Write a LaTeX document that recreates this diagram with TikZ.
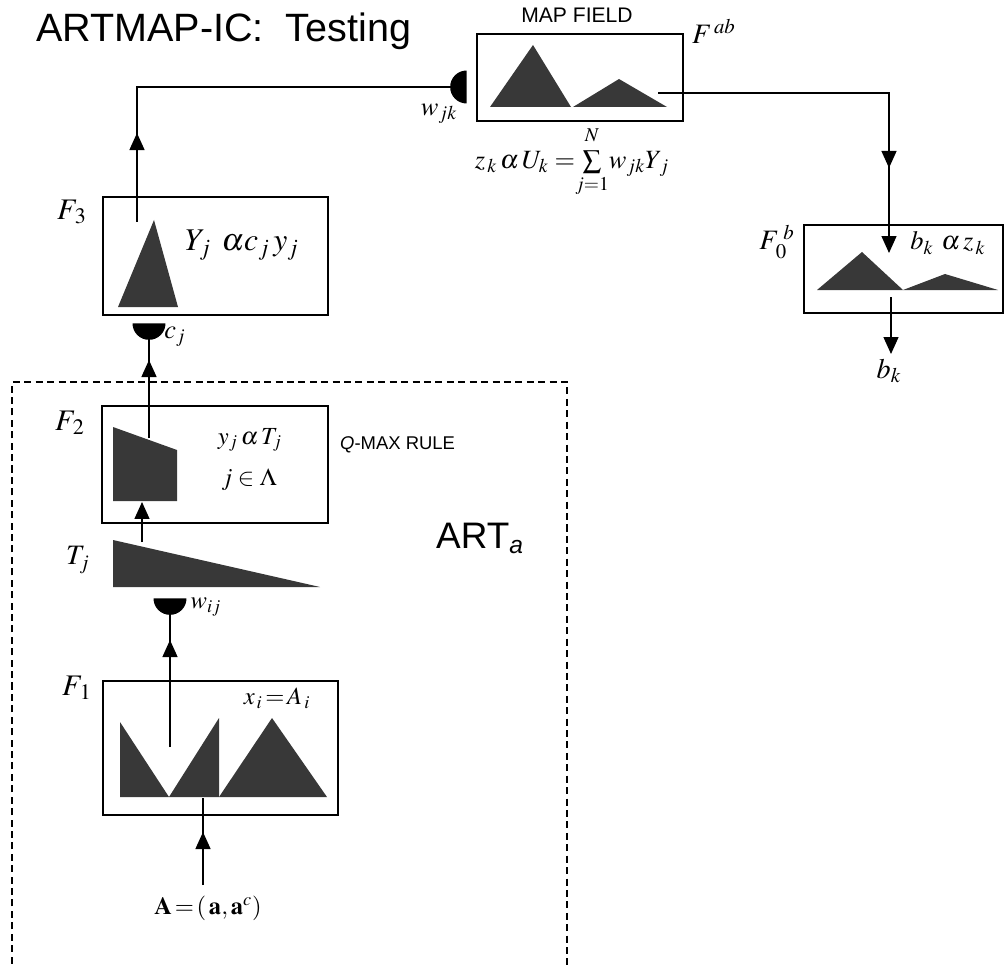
\documentclass[tikz,border=0pt]{standalone}
\usepackage{mathptmx}
\usepackage[no-math]{fontspec}
\newfontfamily\helv{Liberation Sans}
\usetikzlibrary{arrows.meta,shapes.geometric,decorations.markings,positioning}
\newcommand{\fsz}[1]{\fontsize{#1}{#1}\selectfont}

\begin{document}
\begin{tikzpicture}[x=0.02cm, y=-0.02cm,
    layer/.style={rectangle, draw, line width=1.1pt, inner sep=0pt},
    stipple/.style={fill=black!78},
    wire/.style={line width=0.8pt},
    tip/.style={-{Triangle[length=0.34cm,width=0.3cm]}},
    midtip/.style={postaction={decorate}, decoration={markings, mark=at position #1 with {\arrow{Triangle[length=0.34cm,width=0.3cm]}}}},
    gate/.style={semicircle, fill=black, inner sep=0pt, minimum width=0.66cm, minimum height=0.33cm, anchor=chord center},
    lbl/.style={font=\fsz{#1}},
    sans/.style={font=\helv\fsz{#1}}]

    \useasboundingbox (0,0) rectangle (1004,966);

    % title
    \node[anchor=base west, sans=22.5] (title) at (30,42) {ARTMAP-IC:\ \ Testing};

    % map field
    \node[sans=12] (mftitle) at (577,15) {MAP FIELD};
    \node[layer, minimum width=4.12cm, minimum height=1.74cm] (mapf) at (580,77.5) {};
    \fill[stipple] (490,107) -- (533,45) -- (571,107) -- cycle;
    \fill[stipple] (573,107) -- (619,79) -- (667,107) -- cycle;
    \node[lbl=16, anchor=base west] (fab) at (686,44) {$F^{\,ab}$};
    \node[gate, shape border rotate=90] (wjk) at (467,87) {};
    \node[lbl=15] (wjklbl) at (439,114) {$w_{jk}$};
    \node[lbl=15] (zeq) at (572,162) {$z_{\,k}\,\alpha\,U_k\;{=}\!\sum\limits_{j=1}^{\raisebox{2pt}{$\scriptstyle N$}}\! w_{jk}Y_{\,j}$};

    % F3
    \node[layer, minimum width=4.5cm, minimum height=2.36cm] (f3) at (215.5,256) {};
    \fill[stipple] (118,307) -- (154,220) -- (178,307) -- cycle;
    \node[lbl=17] (f3lbl) at (72,212) {$F_{\,3}$};
    \node[lbl=18] (f3eq) at (242,245) {$Y_{j}\;\,\alpha c_{j}\,y_{j}$};
    \node[gate, shape border rotate=180] (cj) at (149,323) {};
    \node[lbl=15] (cjlbl) at (175,337) {$c_j$};

    % ART_a module
    \draw[dashed, dash pattern=on 4pt off 2.5pt, line width=0.7pt] (12,975) -- (12,382) -- (567,382) -- (567,975);
    \node[anchor=base west, sans=21] (arta) at (430,548) {ART\textsubscript{\fsz{14}\itshape a}};

    % F2
    \node[layer, minimum width=4.52cm, minimum height=2.34cm] (f2) at (215,464.5) {};
    \fill[stipple] (113,427) -- (177,450) -- (177,501) -- (113,501) -- cycle;
    \node[lbl=17] (f2lbl) at (70,423) {$F_{\,2}$};
    \node[lbl=14] (f2eq) at (250,440) {$y_j\,\alpha\,T_j$};
    \node[lbl=14] (f2set) at (249,480) {$j\in\Lambda$};
    \node[anchor=west, sans=10.5] (qmax) at (334,445) {\itshape Q\upshape -MAX RULE};

    % T_j
    \fill[stipple] (113,540) -- (320,587) -- (113,587) -- cycle;
    \node[lbl=16] (tjlbl) at (78,560) {$T_j$};
    \node[gate, shape border rotate=180] (wij) at (170,598) {};
    \node[lbl=14] (wijlbl) at (206,607) {$w_{ij}$};

    % F1
    \node[layer, minimum width=4.7cm, minimum height=2.68cm] (f1) at (220.5,748) {};
    \fill[stipple] (120,722) -- (169,797) -- (120,797) -- cycle;
    \fill[stipple] (169,797) -- (219,718) -- (219,797) -- cycle;
    \fill[stipple] (219,797) -- (272,718) -- (327,797) -- cycle;
    \node[lbl=17] (f1lbl) at (77,688) {$F_{\,1}$};
    \node[lbl=14] (f1eq) at (277,698) {$x_{\,i}\,{=}\,A_{\,i}$};
    \node[lbl=14] (ainput) at (208,908) {$\mathbf{A}\,{=}\,(\,\mathbf{a},\mathbf{a}^{c})$};

    % F0^b
    \node[layer, minimum width=3.98cm, minimum height=1.76cm] (f0b) at (903.5,269) {};
    \fill[stipple] (817,290) -- (862,252) -- (903,290) -- cycle;
    \fill[stipple] (903,290) -- (945,274) -- (998,290) -- cycle;
    \node[lbl=16] (f0blbl) at (777,242) {$F_{\,0}^{\;b}$};
    \node[lbl=15] (f0beq) at (948,243) {$b_k\ \alpha\,z_{\,k}$};
    \node[lbl=16] (bk) at (889,371) {$b_k$};

    % connection points
    \coordinate (f3out) at (137,222);
    \coordinate (f2out) at (149,438);
    \coordinate (tjout) at (142,542);
    \coordinate (f2in) at (142,502);
    \coordinate (f1out) at (170,747);
    \coordinate (ain) at (203,885);
    \coordinate (f1in) at (203,798);
    \coordinate (mfout) at (658,93);
    \coordinate (f0bin) at (889,253);
    \coordinate (f0bout) at (891,297);
    \coordinate (bkin) at (891,354);

    % connectors
    \draw[wire, midtip=1.78cm] (f3out) |- (wjk.apex);
    \draw[wire, midtip=1.56cm] (f2out) -- (cj.apex);
    \draw[wire, tip] (tjout) -- (f2in);
    \draw[wire, midtip=2.14cm] (f1out) -- (wij.apex);
    \draw[wire, midtip=1.06cm] (ain) -- (f1in);
    \draw[wire, midtip=6.12cm, tip] (mfout) -| (f0bin);
    \draw[wire, tip] (f0bout) -- (bkin);
\end{tikzpicture}
\end{document}
